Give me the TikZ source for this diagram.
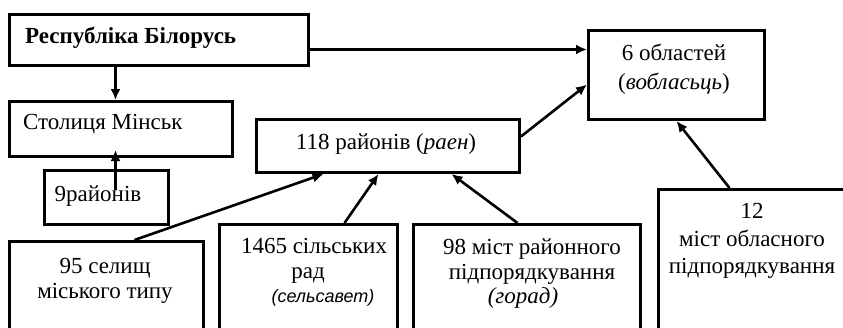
\documentclass[tikz,border=0pt]{standalone}
\usepackage{fontspec}
\setmainfont{Liberation Serif}
\newfontfamily\sansit{Liberation Sans}
\usetikzlibrary{arrows.meta}
\tikzset{
  box/.style={draw, line width=3pt, rectangle, inner sep=0pt, anchor=north west},
  lbl/.style={inner sep=0pt, font=\fontsize{23}{25}\selectfont, align=center},
  arr/.style={line width=2.6pt, -{Latex[length=11pt,width=10pt]}},
}
\begin{document}
\begin{tikzpicture}[x=1pt,y=-1pt]
\useasboundingbox (0,0) rectangle (843,327);
\clip (0,0) rectangle (843,327);
% boxes
\node[box, minimum width=299pt, minimum height=51pt] (rb)    at (8,13)   {};
\node[box, minimum width=223pt, minimum height=55pt] (cap)   at (8,100)  {};
\node[box, minimum width=124pt, minimum height=54pt] (d9)    at (43,169) {};
\node[box, minimum width=263pt, minimum height=53pt] (r118)  at (255,118) {};
\node[box, minimum width=176pt, minimum height=89pt] (obl)   at (587,29) {};
\node[box, minimum width=194pt, minimum height=120pt] (s95)  at (8,240)  {};
\node[box, minimum width=178pt, minimum height=130pt] (s1465) at (218,223) {};
\node[box, minimum width=227pt, minimum height=130pt] (m98)  at (412,223) {};
\node[box, minimum width=203pt, minimum height=170pt] (m12)  at (657,188) {};
% texts
\node[lbl, anchor=west, font=\fontsize{23}{25}\selectfont\bfseries] (trb) at (25,38) {Республіка Білорусь};
\node[lbl, anchor=west] (tcap) at (23,124) {Столиця Мінськ};
\node[lbl] (td9) at (98,196) {9районів};
\node[lbl] (t118) at (386,144) {118 районів (\textit{раен})};
\node[lbl, font=\fontsize{23}{29}\selectfont] (tobl) at (674,69) {6 областей\\(\textit{вобласьць})};
\node[lbl, font=\fontsize{23}{27.5}\selectfont] (t12) at (752,241) {12\\міст обласного\\підпорядкування};
\node[lbl] (t95) at (105,281) {95 селищ\\міського типу};
\node[lbl] (t1465) at (314,261) {1465 сільських\\\hspace*{-12pt}рад};
\node[lbl, font=\fontsize{18}{22}\selectfont\sansit\itshape] (t1465c) at (323,298) {(сельсавет)};
\node[lbl] (t98) at (532,262) {98 міст районного\\підпорядкування};
\node[lbl, font=\fontsize{23}{25}\selectfont\itshape] (t98c) at (523,298) {(горад)};
% connectors
\draw[arr] ([xshift=-43.5pt]rb.south) -- ([xshift=-43.5pt]rb.south |- cap.north);
\draw[arr] ([xshift=9pt,yshift=8pt]d9.center) -- ([xshift=9pt,yshift=8pt]d9.center |- cap.south);
\draw[arr] ([yshift=-9.5pt]rb.east) -- ([yshift=-9.5pt]rb.east -| obl.west);
\draw[arr] ([yshift=9.5pt]r118.east) -- ([yshift=-9.5pt]obl.west);
\draw[arr] ([xshift=-30.5pt]m12.north) -- (obl.south);
\draw[arr] ([xshift=28pt]s95.north) -- ([xshift=-64.5pt]r118.south);
\draw[arr] ([xshift=36pt]s1465.north) -- ([xshift=-9.5pt]r118.south);
\draw[arr] ([xshift=-9.5pt]m98.north) -- ([xshift=63.5pt]r118.south);
\end{tikzpicture}
\end{document}
